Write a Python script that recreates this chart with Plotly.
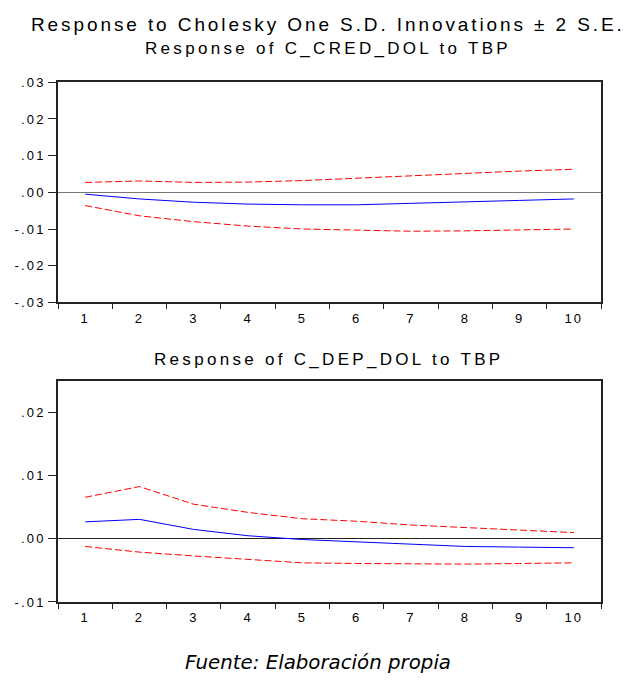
import plotly.graph_objects as go

periods = [1, 2, 3, 4, 5, 6, 7, 8, 9, 10]

# Response of C_CRED_DOL to TBP
cred_resp = [-0.0005, -0.0018, -0.0027, -0.0032, -0.0034, -0.0034, -0.0030, -0.0027, -0.0022, -0.0018]
cred_upper = [0.0027, 0.0031, 0.0027, 0.0028, 0.0032, 0.0039, 0.0046, 0.0052, 0.0058, 0.0063]
cred_lower = [-0.0036, -0.0064, -0.0080, -0.0092, -0.0100, -0.0104, -0.0106, -0.0105, -0.0102, -0.0100]

# Response of C_DEP_DOL to TBP
dep_resp = [0.0027, 0.0031, 0.0015, 0.0005, -0.0001, -0.0005, -0.0009, -0.0012, -0.0013, -0.0014]
dep_upper = [0.0066, 0.0083, 0.0055, 0.0042, 0.0032, 0.0028, 0.0022, 0.0018, 0.0014, 0.0010]
dep_lower = [-0.0012, -0.0021, -0.0027, -0.0033, -0.0038, -0.0039, -0.0040, -0.0040, -0.0039, -0.0038]

top_yticks = [-0.03, -0.02, -0.01, 0.0, 0.01, 0.02, 0.03]
top_ylabels = ["-.03", "-.02", "-.01", ".00", ".01", ".02", ".03"]
bot_yticks = [-0.01, 0.0, 0.01, 0.02]
bot_ylabels = ["-.01", ".00", ".01", ".02"]

main_title = "Response to Cholesky One S.D. Innovations \u00b1 2 S.E."
title_top = "Response of C_CRED_DOL to TBP"
title_bot = "Response of C_DEP_DOL to TBP"
source = "Fuente: Elaboraci\u00f3n propia"


def spaced(s, px):
    return '<span style="letter-spacing:%.1fpx">%s</span>' % (px, s)


fig = go.Figure()


def add_panel(resp, up, lo, xa, ya):
    for band in (up, lo):
        fig.add_trace(go.Scatter(x=periods, y=band, mode="lines", xaxis=xa, yaxis=ya,
                                 line=dict(color="#ff0000", width=1, dash="7px,3px"),
                                 showlegend=False, hoverinfo="skip"))
    fig.add_trace(go.Scatter(x=periods, y=resp, mode="lines", xaxis=xa, yaxis=ya,
                             line=dict(color="#0000ff", width=1), showlegend=False))


add_panel(cred_resp, cred_upper, cred_lower, "x", "y")
add_panel(dep_resp, dep_upper, dep_lower, "x2", "y2")

W, H = 631, 683
xdom = [58 / W, 601 / W]
ydom_top = [1 - 302 / H, 1 - 77 / H]
ydom_bot = [1 - 608.3 / H, 1 - 382.7 / H]

FAM = "Liberation Sans, Arial, sans-serif"
tickfont = dict(family=FAM, size=13, color="#000")


def xaxis_cfg(anchor):
    return dict(domain=xdom, anchor=anchor, range=[0.5, 10.5],
                tickmode="array", tickvals=periods,
                ticktext=[spaced(str(p), 2.0) for p in periods],
                ticks="", showgrid=False, zeroline=False,
                showline=True, mirror=True, linecolor="#222", linewidth=1.5,
                tickfont=tickfont, ticklabelstandoff=3,
                minor=dict(tickmode="array", tickvals=[p - 0.5 for p in periods] + [10.5],
                           ticks="outside", ticklen=5, tickcolor="#222", tickwidth=1,
                           showgrid=False))


def yaxis_cfg(anchor, dom, rng, tv, tt, zc):
    return dict(domain=dom, anchor=anchor, range=rng, tickmode="array",
                tickvals=tv, ticktext=[spaced(t, 2.2) for t in tt],
                ticks="outside", ticklen=8, tickcolor="#222", tickwidth=1,
                showgrid=False, zeroline=True, zerolinecolor=zc, zerolinewidth=1,
                showline=True, mirror=True, linecolor="#222", linewidth=1.5,
                tickfont=tickfont)


fig.update_layout(
    width=W, height=H,
    margin=dict(l=0, r=0, t=0, b=0),
    paper_bgcolor="white", plot_bgcolor="white",
    xaxis=xaxis_cfg("y"),
    yaxis=yaxis_cfg("x", ydom_top, [-0.03, 0.03], top_yticks, top_ylabels, "#777"),
    xaxis2=xaxis_cfg("y2"),
    yaxis2=yaxis_cfg("x2", ydom_bot, [-0.01, 0.025], bot_yticks, bot_ylabels, "#222"),
)

tfont = dict(family=FAM, color="#000")
fig.add_annotation(text=spaced(main_title, 2.9), x=327.5 / W, y=1 - 17.5 / H,
                   xref="paper", yref="paper", showarrow=False,
                   font=dict(size=19, **tfont), xanchor="center", yanchor="middle")
fig.add_annotation(text=spaced(title_top, 3.3), x=328 / W, y=1 - 42 / H,
                   xref="paper", yref="paper", showarrow=False,
                   font=dict(size=17, **tfont), xanchor="center", yanchor="middle")
fig.add_annotation(text=spaced(title_bot, 3.3), x=328 / W, y=1 - 360 / H,
                   xref="paper", yref="paper", showarrow=False,
                   font=dict(size=17, **tfont), xanchor="center", yanchor="middle")
fig.add_annotation(text="<i>" + source + "</i>", x=318 / W, y=1 - 670 / H,
                   xref="paper", yref="paper", showarrow=False,
                   font=dict(size=19.8, family="DejaVu Sans, sans-serif", color="#000"),
                   xanchor="center", yanchor="middle")

fig.write_html("out.html", config={"displayModeBar": False},
               post_script="document.body.style.margin='0';")
